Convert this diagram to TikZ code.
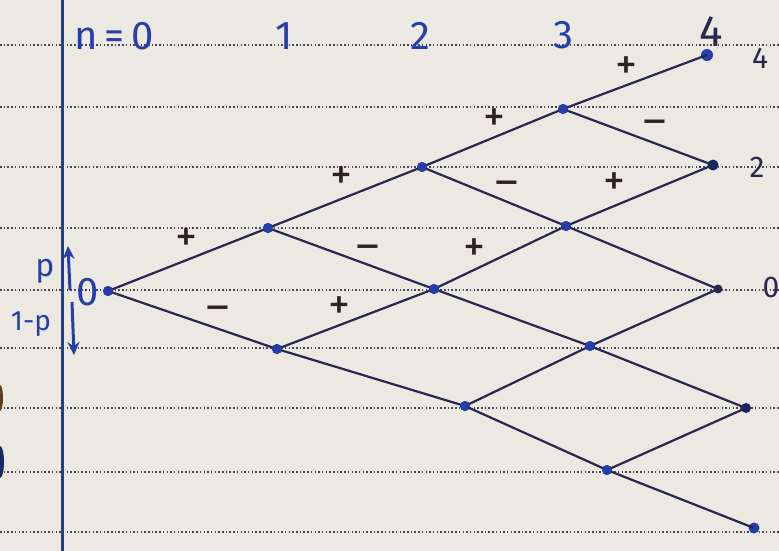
\documentclass[tikz,border=0pt]{standalone}
\usepackage{fontspec}
\setsansfont{Fira Sans}
\usetikzlibrary{arrows.meta}
\definecolor{paper}{RGB}{236,233,226}
\definecolor{ink}{RGB}{38,62,170}
\definecolor{edgeink}{RGB}{38,40,80}
\definecolor{signink}{RGB}{45,35,30}
\definecolor{rule}{RGB}{70,70,80}
\definecolor{margin}{RGB}{35,60,140}
\tikzset{
  pt/.style={circle,fill=ink,inner sep=0pt,minimum size=10pt},
  edge/.style={draw=edgeink,line width=2.2pt},
  sign/.style={text=signink,font=\sffamily\fontsize{44}{44}\selectfont,inner sep=0pt},
  lab/.style={text=ink,font=\sffamily\fontsize{40}{40}\selectfont,inner sep=0pt},
  rlab/.style={text=edgeink,font=\sffamily\fontsize{30}{30}\selectfont,inner sep=0pt},
  ruleline/.style={draw=rule,line width=1.5pt,dash pattern=on 1.5pt off 2.2pt},
  arr/.style={draw=ink,line width=3pt,-{Stealth[length=13pt,width=12pt]}}
}
\begin{document}
\begin{tikzpicture}[x=1pt,y=-1pt]
\fill[paper] (0,0) rectangle (779,551);
\useasboundingbox (0,0) rectangle (779,551);
% ruled lines
\foreach \yy in {45,107,167,228,290,348,408,472,532}
  \draw[ruleline] (0,\yy) -- (779,\yy);
% binder holes
\fill[brown!50!black] (0,398) ellipse (3 and 13);
\fill[margin!70!black] (0,462) ellipse (4 and 16);
% margin line
\draw[margin,line width=3pt] (62,0) -- (62,551);
% nodes
\node[pt] (a0) at (108,291) {};
\node[pt] (b0) at (268,228) {};
\node[pt] (b1) at (277,349) {};
\node[pt] (c0) at (422,167) {};
\node[pt] (c1) at (434,289) {};
\node[pt] (c2) at (465,406) {};
\node[pt] (d0) at (563,109) {};
\node[pt] (d1) at (566,226) {};
\node[pt] (d2) at (590,346) {};
\node[pt] (d3) at (607,470) {};
\node[pt,minimum size=12pt] (e0) at (707,55) {};
\node[pt,fill=ink!60!black,minimum size=11pt] (e1) at (713,165) {};
\node[pt,minimum size=9pt,fill=edgeink] (e2) at (718,289) {};
\node[pt,fill=ink!60!black] (e3) at (746,408) {};
\node[pt,minimum size=11pt] (e4) at (754,528) {};
% edges
\foreach \s/\t in {a0/b0,a0/b1,b0/c0,b0/c1,b1/c1,b1/c2,c0/d0,c0/d1,c1/d1,c1/d2,c2/d2,c2/d3,d0/e0,d0/e1,d1/e1,d1/e2,d2/e2,d2/e3,d3/e3,d3/e4}
  \draw[edge] (\s.center) -- (\t.center);
% redraw dots on top
\foreach \n in {a0,b0,b1,c0,c1,c2,d0,d1,d2,d3}
  \fill[ink] (\n.center) circle (5pt);
% signs
\node[sign] (s1) at (186,240) {+};
\node[sign] (s2) at (218,314) {\textendash};
\node[sign] (s3) at (341,178) {+};
\node[sign] (s4) at (368,253) {\textendash};
\node[sign] (s5) at (339,308) {+};
\node[sign] (s6) at (494,120) {+};
\node[sign] (s7) at (507,189) {\textendash};
\node[sign] (s8) at (474,250) {+};
\node[sign] (s9) at (626,68) {+};
\node[sign] (s10) at (655,128) {\textendash};
\node[sign] (s11) at (614,184) {+};
% column labels
\node[lab] (l0) at (114,36) {n\,=\,0};
\node[lab] (l1) at (284,36) {1};
\node[lab] (l2) at (420,36) {2};
\node[lab] (l3) at (563,35) {3};
\node[lab,text=edgeink,font=\sffamily\fontsize{44}{44}\selectfont] (l4) at (711,32) {4};
% right labels
\node[rlab] (r4) at (760,58) {4};
\node[rlab] (r2) at (757,167) {2};
\node[rlab] (r0) at (771,287) {0};
% left labels
\node[lab,font=\sffamily\fontsize{32}{32}\selectfont] (p) at (45,271) {p};
\node[lab,font=\sffamily\fontsize{28}{28}\selectfont] (q) at (31,324) {1-p};
\node[lab] (z) at (88,292) {0};
\coordinate (ua) at (70,290);
\coordinate (ub) at (68,246);
\coordinate (da) at (72,302);
\coordinate (db) at (74,355);
\draw[arr] (ua) -- (ub);
\draw[arr] (da) -- (db);
\end{tikzpicture}
\end{document}
